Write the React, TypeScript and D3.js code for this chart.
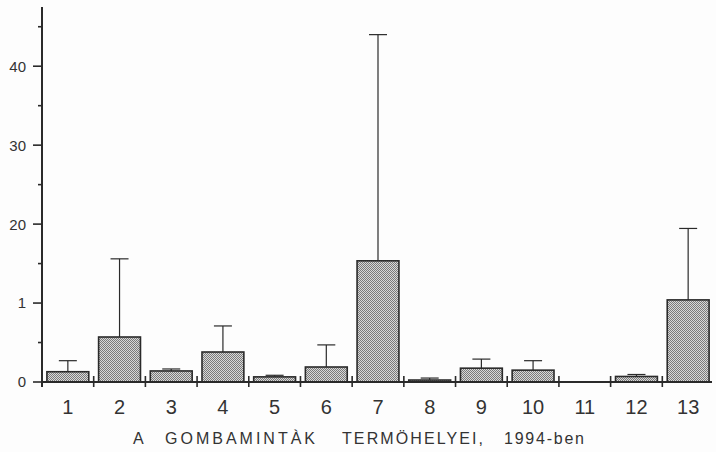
import React from "react";
import * as d3 from "d3";

const categories = ["1", "2", "3", "4", "5", "6", "7", "8", "9", "10", "11", "12", "13"];
const means = [1.3, 5.7, 1.4, 3.8, 0.65, 1.9, 15.35, 0.25, 1.75, 1.5, 0, 0.7, 10.4];
const errTops = [2.7, 15.6, 1.65, 7.1, 0.85, 4.7, 44.0, 0.5, 2.9, 2.7, 0, 0.95, 19.45];
const yTickValues = [0, 10, 20, 30, 40];
const yTickLabels = ["0", "1", "20", "30", "40"];
const yMinorTicks = [5, 15, 25, 35, 45];
const titleParts = ["A", "GOMBAMINTÀK", "TERMÖHELYEI,", "1994-ben"];

const W = 716;
const H = 452;
const left = 42;
const right = 714;
const bottom = 382;
const top = 7;

export default function App() {
  const x = d3
    .scaleBand<string>()
    .domain(categories)
    .range([left, right])
    .paddingInner(0.19)
    .paddingOuter(0.095);
  const y = d3.scaleLinear().domain([0, 47.5]).range([bottom, top]);
  const step = x.step();
  const bw = x.bandwidth();
  const ink = "#2a2a2a";
  const font = "'Liberation Sans', Arial, sans-serif";

  return (
    <svg
      width={W}
      height={H}
      style={{ position: "absolute", left: 0, top: 0, background: "#fdfdfd" }}
    >
      <defs>
        <pattern id="dots" width="2" height="2" patternUnits="userSpaceOnUse">
          <rect width="2" height="2" fill="#d8d8d8" />
          <rect width="1" height="1" fill="#7a7a7a" />
          <rect x="1" y="1" width="1" height="1" fill="#7a7a7a" />
        </pattern>
      </defs>

      {/* bars */}
      {categories.map((c, i) =>
        means[i] > 0 ? (
          <rect
            key={"b" + c}
            x={x(c)!}
            y={y(means[i])}
            width={bw}
            height={y(0) - y(means[i])}
            fill="url(#dots)"
            stroke={ink}
            strokeWidth={1.6}
          />
        ) : null
      )}

      {/* error bars */}
      {categories.map((c, i) => {
        if (errTops[i] <= means[i]) return null;
        const cx = x(c)! + bw / 2;
        return (
          <g key={"e" + c} stroke={ink} strokeWidth={1.2}>
            <line x1={cx} x2={cx} y1={y(means[i])} y2={y(errTops[i])} />
            <line x1={cx - 9} x2={cx + 9} y1={y(errTops[i])} y2={y(errTops[i])} />
          </g>
        );
      })}

      {/* y axis */}
      <line x1={left} x2={left} y1={top} y2={bottom + 5} stroke={ink} strokeWidth={2} />
      {yTickValues.map((v, i) => (
        <g key={"yt" + v}>
          <line x1={left - 9} x2={left} y1={y(v)} y2={y(v)} stroke={ink} strokeWidth={1.6} />
          <text
            x={left - 16}
            y={y(v)}
            dy="0.36em"
            textAnchor="end"
            fontFamily={font}
            fontSize={15}
            fill="#333"
          >
            {yTickLabels[i]}
          </text>
        </g>
      ))}
      {yMinorTicks.map((v) => (
        <line key={"ym" + v} x1={left - 4} x2={left} y1={y(v)} y2={y(v)} stroke={ink} strokeWidth={1.6} />
      ))}

      {/* x axis */}
      <line x1={left} x2={right - 2} y1={bottom} y2={bottom} stroke={ink} strokeWidth={2} />
      {categories.map((c) => {
        const bx = x(c)! + bw / 2 + step / 2;
        return bx < right - 3 ? (
          <line key={"xt" + c} x1={bx} x2={bx} y1={bottom - 6} y2={bottom + 5} stroke={ink} strokeWidth={1.6} />
        ) : null;
      })}
      {categories.map((c) => (
        <text
          key={"xl" + c}
          x={x(c)! + bw / 2}
          y={414}
          textAnchor="middle"
          fontFamily={font}
          fontSize={20}
          fill="#333"
        >
          {c}
        </text>
      ))}

      {/* x title */}
      <text x={133} y={444} fontFamily={font} fontSize={16} fill="#333">
        {titleParts[0]}
      </text>
      <text x={165} y={444} fontFamily={font} fontSize={16} fill="#333" textLength={150} lengthAdjust="spacing">
        {titleParts[1]}
      </text>
      <text x={342} y={444} fontFamily={font} fontSize={16} fill="#333" textLength={141} lengthAdjust="spacing">
        {titleParts[2]}
      </text>
      <text x={504} y={444} fontFamily={font} fontSize={16} fill="#333" textLength={80} lengthAdjust="spacing">
        {titleParts[3]}
      </text>
    </svg>
  );
}
